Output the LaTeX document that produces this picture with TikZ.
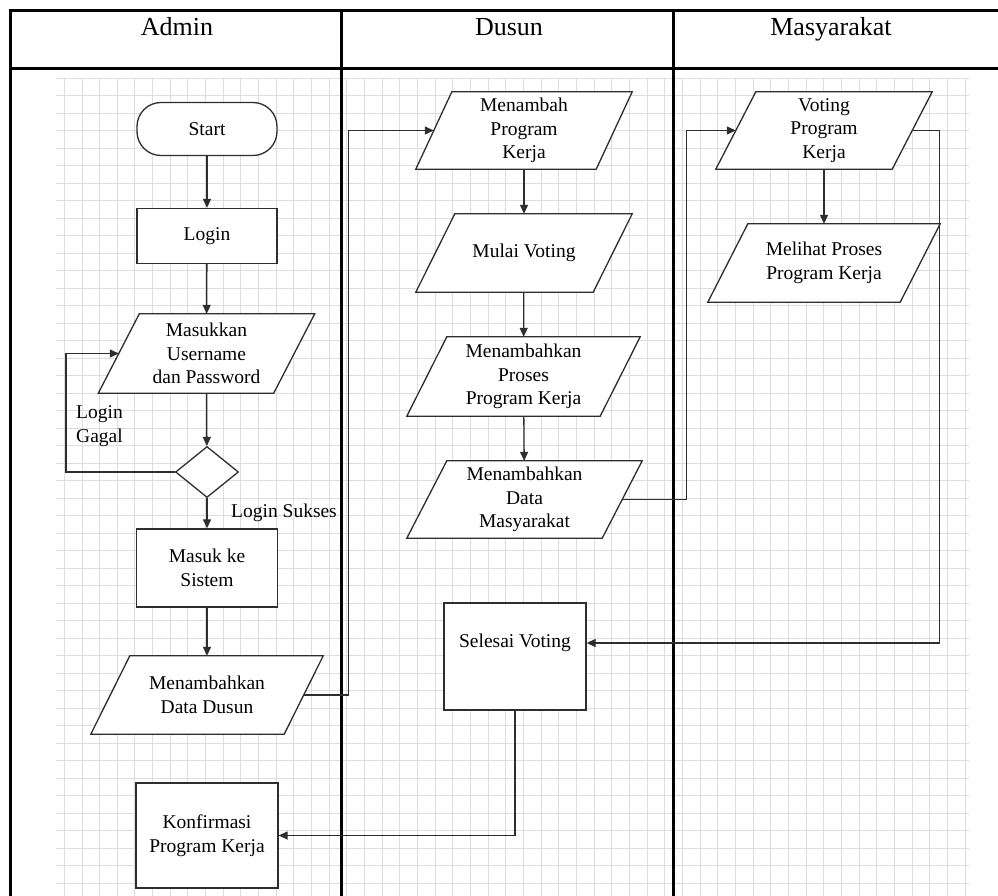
\documentclass[tikz,border=0pt]{standalone}
\usepackage{fontspec}
\setmainfont{Liberation Serif}
\usetikzlibrary{arrows.meta,calc,shapes.geometric}
\pgfdeclarelayer{gridlayer}
\pgfdeclarelayer{shapelayer}
\pgfsetlayers{gridlayer,shapelayer,main}
\definecolor{lineclr}{HTML}{2E2E2E}
\definecolor{gridclr}{HTML}{DDDDDD}
\newcommand\myfnt{\fontsize{19.5}{23.5}\selectfont}
\newcommand\hdrfnt{\fontsize{26}{30}\selectfont}
\tikzset{
  fc/.style={draw=lineclr, line width=1.3pt, fill=white},
  procbox/.style={fc, rectangle, inner sep=0pt, align=center, font=\myfnt, text=black},
  iobox/.style={rectangle, inner sep=0pt, align=center, font=\myfnt, text=black},
  decbox/.style={fc, diamond, inner sep=0pt},
  lbl/.style={inner sep=0pt, align=left, font=\myfnt, text=black},
  hdr/.style={inner sep=0pt, font=\hdrfnt, text=black, anchor=base},
  conn/.style={draw=lineclr, line width=1.3pt, -{Triangle[length=9pt,width=8pt]}},
  tbl/.style={draw=black, line width=3pt},
}
\newcommand\drawpara[2]{%
  \begin{pgfonlayer}{shapelayer}
    \draw[fc] ($(#1.north west)+(#2/2,0)$) -- ($(#1.north east)+(#2/2,0)$)
      -- ($(#1.south east)-(#2/2,0)$) -- ($(#1.south west)-(#2/2,0)$) -- cycle;
  \end{pgfonlayer}}
\begin{document}
\begin{tikzpicture}[x=1pt,y=-1pt]
\useasboundingbox (0,0) rectangle (998,896);
% grid
\begin{pgfonlayer}{gridlayer}
  \fill[white] (0,0) rectangle (998,896);
  \foreach \i in {0,...,51} {
    \draw[gridclr, line width=0.9pt] (64.3+17.66*\i,78) -- (64.3+17.66*\i,896);
  }
  \foreach \j in {0,...,46} {
    \draw[gridclr, line width=0.9pt] (56,78+17.5*\j) -- (969,78+17.5*\j);
  }
\end{pgfonlayer}
% table
\draw[tbl] (10,11) -- (998,11);
\draw[tbl] (10,69) -- (998,69);
\draw[tbl] (10,9.5) -- (10,896);
\draw[tbl] (341,9.5) -- (341,896);
\draw[tbl] (673,9.5) -- (673,896);
\node[hdr] (hA) at (177,36) {Admin};
\node[hdr] (hD) at (509,36) {Dusun};
\node[hdr] (hM) at (831,36) {Masyarakat};

% Admin column
\node[procbox, rounded corners=24pt, minimum width=140, minimum height=53] (start) at (207,129) {Start};
\node[procbox, minimum width=140, minimum height=55] (login) at (207,236) {Login};
\node[iobox, minimum width=175, minimum height=79] (masuk) at (206.5,353.5) {Masukkan\\Username\\dan Password};
\drawpara{masuk}{41}
\node[decbox, minimum width=63, minimum height=51] (dec) at (207,472) {};
\node[procbox, minimum width=141, minimum height=78] (sistem) at (207,568) {Masuk ke\\Sistem};
\node[iobox, minimum width=193, minimum height=78] (dusun) at (207,695) {Menambahkan\\Data Dusun};
\drawpara{dusun}{39}
\node[procbox, minimum width=142, minimum height=105] (konf) at (207,835.5) {Konfirmasi\\Program Kerja};
\node[lbl, anchor=west] (gagal) at (76,426) {Login\\Gagal};
\node[lbl, anchor=west] (sukses) at (231,513) {Login Sukses};

% Dusun column
\node[iobox, minimum width=180, minimum height=77] (menambah) at (524,130.5) {Menambah\\Program\\Kerja};
\drawpara{menambah}{36}
\node[iobox, minimum width=177, minimum height=78] (mulai) at (524,253) {Mulai Voting};
\drawpara{mulai}{39}
\node[iobox, minimum width=193, minimum height=79] (proses) at (523.5,376.5) {Menambahkan\\Proses\\Program Kerja};
\drawpara{proses}{40}
\node[iobox, minimum width=195, minimum height=77] (masy) at (524.5,499.5) {Menambahkan\\Data\\Masyarakat};
\drawpara{masy}{40}
\node[procbox, minimum width=142, minimum height=107] (selesai) at (515,656.5) {};
\node[iobox] (selesaiT) at (515,643) {Selesai Voting};

% Masyarakat column
\node[iobox, minimum width=176, minimum height=77] (voting) at (824,130.5) {Voting\\Program\\Kerja};
\drawpara{voting}{40}
\node[iobox, minimum width=192, minimum height=78] (melihat) at (824,263) {Melihat Proses\\Program Kerja};
\drawpara{melihat}{40}

% connectors
\draw[conn] (start) -- (login);
\draw[conn] (login) -- (masuk);
\draw[conn] (masuk) -- (dec);
\draw[conn] (dec) -- (sistem);
\draw[conn] (sistem) -- (dusun);
\draw[conn] (dec.west) -- ++(-109,0) |- (masuk.west);
\draw[conn] (dusun.east) -- ++(44.5,0) |- (menambah.west);
\draw[conn] (menambah) -- (mulai);
\draw[conn] (mulai) -- (proses);
\draw[conn] (proses) -- (masy);
\draw[conn] (masy.east) -- ++(64,0) |- (voting.west);
\draw[conn] (voting) -- (melihat);
\draw[conn] (voting.east) -- ++(27,0) |- (selesaiT -| selesai.east);
\draw[conn] (selesai.south) |- (konf.east);
\end{tikzpicture}
\end{document}
